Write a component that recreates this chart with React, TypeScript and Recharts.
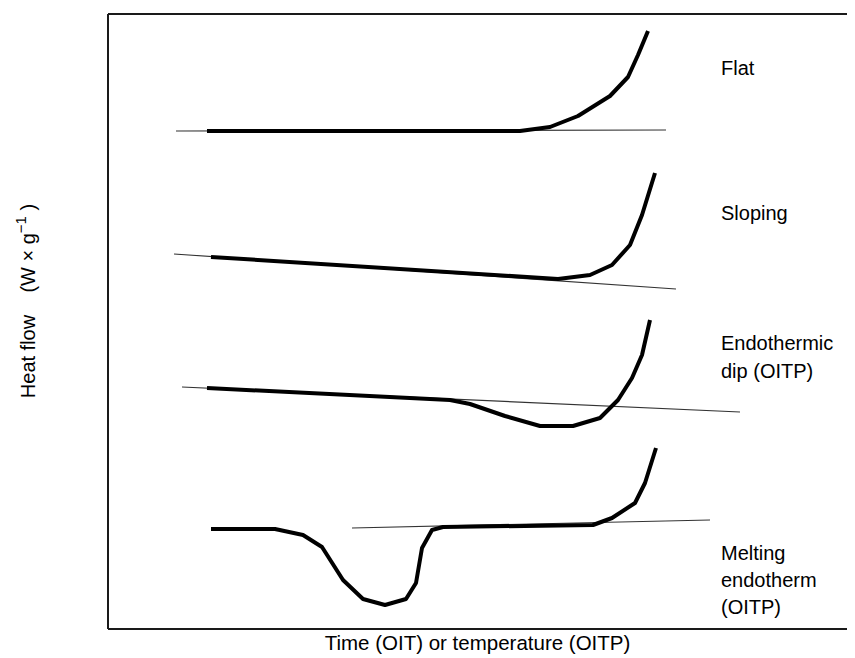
import { Line, LineChart, ReferenceDot, ReferenceLine, XAxis, YAxis } from "recharts";

// x: time / temperature (arbitrary units), y: heat flow (arbitrary units)
const X_MAX = 74.7;
const Y_MAX = 61.5;

const flatCurve = [
  { x: 9.9, y: 49.8 },
  { x: 41.2, y: 49.8 },
  { x: 44.2, y: 50.2 },
  { x: 47.0, y: 51.3 },
  { x: 50.2, y: 53.3 },
  { x: 52.0, y: 55.2 },
  { x: 53.0, y: 57.4 },
  { x: 54.0, y: 59.8 },
];
const flatBase = [
  { x: 6.8, y: 49.8 },
  { x: 55.8, y: 49.9 },
];

const slopingCurve = [
  { x: 10.3, y: 37.2 },
  { x: 45.0, y: 35.0 },
  { x: 48.2, y: 35.4 },
  { x: 50.4, y: 36.4 },
  { x: 52.2, y: 38.4 },
  { x: 53.4, y: 41.4 },
  { x: 54.7, y: 45.6 },
];
const slopingBase = [
  { x: 6.6, y: 37.5 },
  { x: 56.8, y: 34.0 },
];

const endoCurve = [
  { x: 9.9, y: 24.1 },
  { x: 34.2, y: 22.9 },
  { x: 36.2, y: 22.5 },
  { x: 39.7, y: 21.3 },
  { x: 43.2, y: 20.3 },
  { x: 46.5, y: 20.3 },
  { x: 49.2, y: 21.1 },
  { x: 51.0, y: 22.9 },
  { x: 52.4, y: 25.1 },
  { x: 53.4, y: 27.4 },
  { x: 54.2, y: 30.9 },
];
const endoBase = [
  { x: 7.4, y: 24.2 },
  { x: 63.2, y: 21.7 },
];

const meltCurve = [
  { x: 10.3, y: 10.0 },
  { x: 16.7, y: 10.0 },
  { x: 19.5, y: 9.4 },
  { x: 21.4, y: 8.2 },
  { x: 23.5, y: 4.9 },
  { x: 25.5, y: 3.0 },
  { x: 27.7, y: 2.4 },
  { x: 29.8, y: 3.0 },
  { x: 30.8, y: 4.6 },
  { x: 31.4, y: 8.1 },
  { x: 32.4, y: 9.9 },
  { x: 33.5, y: 10.2 },
  { x: 48.5, y: 10.4 },
  { x: 50.4, y: 11.1 },
  { x: 52.7, y: 12.6 },
  { x: 53.7, y: 14.6 },
  { x: 54.8, y: 18.1 },
];
const meltBase = [
  { x: 24.4, y: 10.1 },
  { x: 60.2, y: 10.9 },
];

const curves = [flatCurve, slopingCurve, endoCurve, meltCurve];
const baselines = [flatBase, slopingBase, endoBase, meltBase];

const annotations = [
  { x: 61.3, y: 56.1, text: "Flat" },
  { x: 61.3, y: 41.6, text: "Sloping" },
  { x: 61.3, y: 28.6, text: "Endothermic" },
  { x: 61.3, y: 25.8, text: "dip (OITP)" },
  { x: 61.3, y: 7.6, text: "Melting" },
  { x: 61.3, y: 4.9, text: "endotherm" },
  { x: 61.3, y: 2.2, text: "(OITP)" },
];

const FONT = "'Liberation Sans', Arial, sans-serif";
const FRAME = "#1a1a1a";

function XLabel({ viewBox }: any) {
  const { x, y, width } = viewBox;
  return (
    <text
      x={x + width / 2 - 4}
      y={y + 13}
      textAnchor="middle"
      dominantBaseline="central"
      fontFamily={FONT}
      fontSize={20.5}
      fill="#000"
    >
      Time (OIT) or temperature (OITP)
    </text>
  );
}

function YLabel() {
  const bx = 27;
  const cy = 293;
  return (
    <text
      x={bx}
      y={cy}
      transform={`rotate(-90, ${bx}, ${cy})`}
      textAnchor="middle"
      fontFamily={FONT}
      fontSize={20}
      fill="#000"
      style={{ whiteSpace: "pre" }}
    >
      {"Heat flow    (W \u00d7 g"}
      <tspan dy={-9} fontSize={15}>
        {"\u22121"}
      </tspan>
      <tspan dy={9}>{" )"}</tspan>
    </text>
  );
}

export default function App() {
  return (
    <div style={{ width: 847, height: 650 }}>
      <LineChart width={847} height={650} margin={{ top: 6, right: 0, bottom: 0, left: 0 }}>
        <XAxis
          type="number"
          dataKey="x"
          domain={[0, X_MAX]}
          allowDataOverflow
          tick={false}
          tickLine={false}
          height={29}
          axisLine={{ stroke: FRAME, strokeWidth: 2 }}
          label={<XLabel />}
        />
        <YAxis
          type="number"
          dataKey="y"
          domain={[0, Y_MAX]}
          allowDataOverflow
          tick={false}
          tickLine={false}
          width={100}
          axisLine={{ stroke: FRAME, strokeWidth: 2 }}
          label={<YLabel />}
        />
        <ReferenceLine y={Y_MAX} stroke={FRAME} strokeWidth={2} />
        {baselines.map((d, i) => (
          <Line
            key={"b" + i}
            data={d}
            dataKey="y"
            type="linear"
            stroke="#333"
            strokeWidth={1.2}
            dot={false}
            activeDot={false}
            isAnimationActive={false}
          />
        ))}
        {curves.map((d, i) => (
          <Line
            key={"c" + i}
            data={d}
            dataKey="y"
            type="linear"
            stroke="#000"
            strokeWidth={4}
            strokeLinejoin="round"
            dot={false}
            activeDot={false}
            isAnimationActive={false}
          />
        ))}
        {annotations.map((a, i) => (
          <ReferenceDot
            key={"a" + i}
            x={a.x}
            y={a.y}
            r={0}
            shape={(p: any) => (
              <text
                x={p.cx}
                y={p.cy}
                textAnchor="start"
                dominantBaseline="central"
                fontFamily={FONT}
                fontSize={20}
                fill="#000"
              >
                {a.text}
              </text>
            )}
          />
        ))}
      </LineChart>
    </div>
  );
}
